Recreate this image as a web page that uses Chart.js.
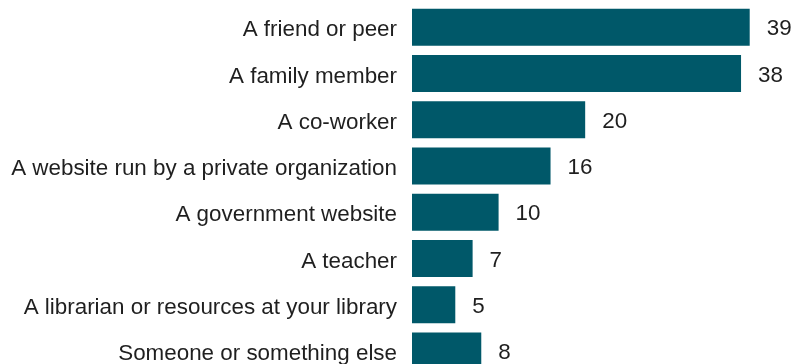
<!DOCTYPE html>
<html lang="en">
<head>
    <meta charset="UTF-8">
    <title>Sources of help</title>
    <script src="https://cdn.jsdelivr.net/npm/chart.js"></script>
    <style>
        html, body { margin: 0; padding: 0; background: #fff; overflow: hidden; }
        #wrap { width: 794px; height: 364px; overflow: hidden; }
    </style>
</head>
<body>
    <div id="wrap">
        <canvas id="sourcesChart" width="794" height="374"></canvas>
    </div>

    <script>
        // Categories and percentages
        const categories = [
            'A friend or peer',
            'A family member',
            'A co-worker',
            'A website run by a private organization',
            'A government website',
            'A teacher',
            'A librarian or resources at your library',
            'Someone or something else'
        ];
        const shares = [39, 38, 20, 16, 10, 7, 5, 8];

        const barColor = '#005869';
        const textColor = '#1f1f1f';
        const fontFamily = "'Liberation Sans', Arial, sans-serif";
        const fontSize = 22.4;

        // Writes the value just past the end of each bar
        const valueLabels = {
            id: 'valueLabels',
            afterDatasetsDraw(chart) {
                const ctx = chart.ctx;
                const meta = chart.getDatasetMeta(0);
                ctx.save();
                ctx.font = fontSize + 'px ' + fontFamily;
                ctx.fillStyle = textColor;
                ctx.textAlign = 'left';
                ctx.textBaseline = 'middle';
                meta.data.forEach((bar, i) => {
                    ctx.fillText(String(shares[i]), bar.x + 17, bar.y + 2);
                });
                ctx.restore();
            }
        };

        const ctx = document.getElementById('sourcesChart').getContext('2d');
        new Chart(ctx, {
            type: 'bar',
            data: {
                labels: categories,
                datasets: [{
                    data: shares,
                    backgroundColor: barColor,
                    borderWidth: 0,
                    barPercentage: 1,
                    categoryPercentage: 0.8
                }]
            },
            options: {
                indexAxis: 'y',
                responsive: false,
                animation: false,
                layout: { padding: { top: 4, right: 1, bottom: 0, left: 0 } },
                plugins: {
                    legend: { display: false },
                    tooltip: { enabled: false }
                },
                scales: {
                    x: {
                        min: 0,
                        max: 44,
                        display: false
                    },
                    y: {
                        border: { display: false },
                        grid: { display: false, drawTicks: false },
                        ticks: {
                            color: textColor,
                            padding: 15,
                            labelOffset: 3,
                            font: { family: fontFamily, size: fontSize }
                        },
                        afterFit(scale) {
                            scale.width = 412;
                            // no extra room above/below the first and last labels
                            scale.paddingTop = 0;
                            scale.paddingBottom = 0;
                        }
                    }
                }
            },
            plugins: [valueLabels]
        });
    </script>
</body>
</html>
